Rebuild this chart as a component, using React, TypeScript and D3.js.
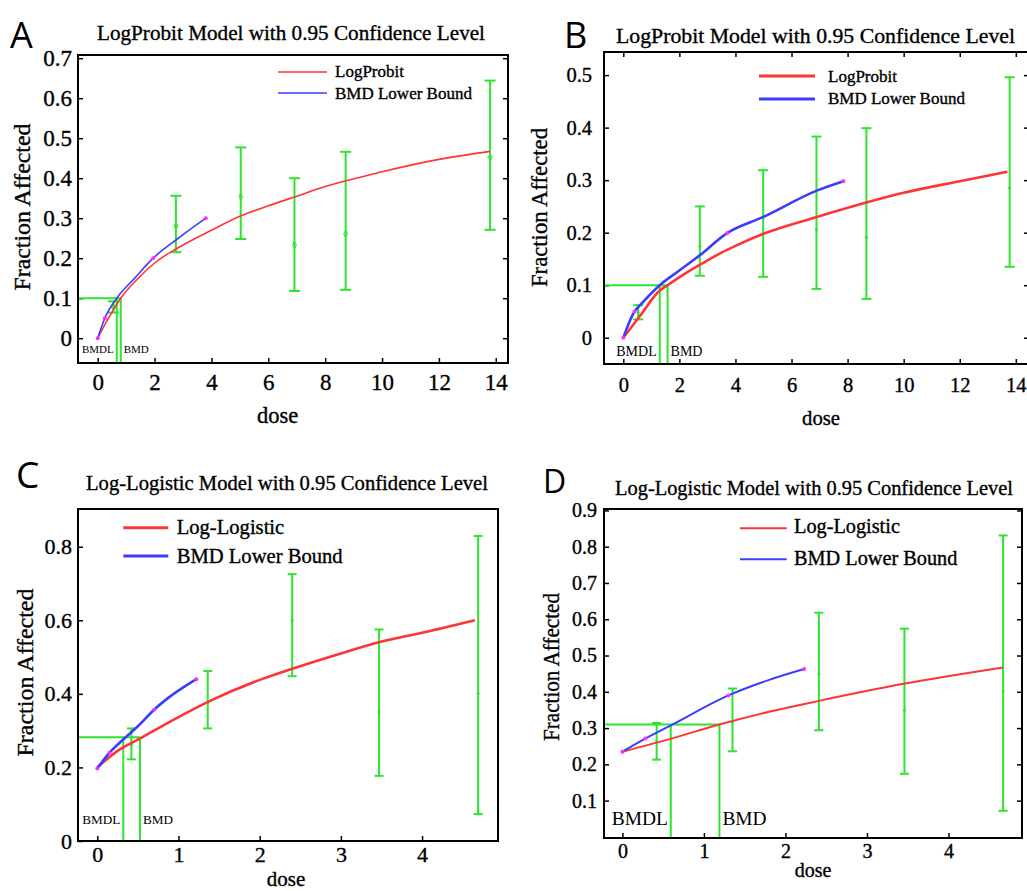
import React, { useEffect, useRef } from "react";
import * as d3 from "d3";

type Pt = [number, number];
// dose, lower, mean, upper
type Bar = [number, number, number, number];

// ---- Panel A : LogProbit ----
const aModel: Pt[] = [[0, 0], [0.3, 0.04], [0.81, 0.1], [1.5, 0.155], [2, 0.188], [2.8, 0.225], [4, 0.27], [5, 0.305], [6, 0.331], [7, 0.355], [8, 0.379], [10, 0.416], [12, 0.447], [13.8, 0.467]];
const aLower: Pt[] = [[0, 0], [0.25, 0.05], [0.67, 0.1], [1.3, 0.15], [1.95, 0.2], [2.8, 0.248], [3.8, 0.3]];
const aMarks: Pt[] = [[0, 0], [0.25, 0.05], [1.95, 0.2], [3.8, 0.3]];
const aBars: Bar[] = [[0.55, 0.064, 0.078, 0.092], [2.75, 0.215, 0.281, 0.356], [5.03, 0.248, 0.354, 0.477], [6.92, 0.118, 0.233, 0.4], [8.72, 0.121, 0.261, 0.466], [13.8, 0.271, 0.452, 0.644]];
const aXTicks = [0, 2, 4, 6, 8, 10, 12, 14];
const aYTicks = [0, 0.1, 0.2, 0.3, 0.4, 0.5, 0.6, 0.7];

// ---- Panel B : LogProbit ----
const bModel: Pt[] = [[0, 0], [0.6, 0.042], [1.3, 0.09], [1.58, 0.1], [2.2, 0.122], [2.8, 0.141], [3.5, 0.162], [4, 0.175], [5, 0.198], [6.9, 0.23], [8.7, 0.258], [10, 0.276], [12, 0.298], [13.7, 0.316]];
const bLower: Pt[] = [[0, 0], [0.4, 0.05], [0.6, 0.062], [1.3, 0.1], [2, 0.128], [2.73, 0.157], [3.7, 0.199], [5, 0.23], [6.9, 0.28], [7.85, 0.298]];
const bMarks: Pt[] = [[0, 0], [0.4, 0.05], [3.7, 0.199], [7.85, 0.298]];
const bBars: Bar[] = [[0.53, 0.035, 0.048, 0.062], [2.73, 0.118, 0.174, 0.25], [4.99, 0.116, 0.199, 0.319], [6.89, 0.093, 0.206, 0.383], [8.67, 0.074, 0.191, 0.399], [13.78, 0.135, 0.285, 0.496]];
const bXTicks = [0, 2, 4, 6, 8, 10, 12, 14];
const bYTicks = [0, 0.1, 0.2, 0.3, 0.4, 0.5];

// ---- Panel C : Log-Logistic ----
const cModel: Pt[] = [[0, 0.2], [0.25, 0.245], [0.52, 0.278], [1, 0.337], [1.37, 0.379], [2, 0.438], [2.41, 0.469], [3, 0.51], [3.48, 0.541], [4, 0.566], [4.65, 0.6]];
const cLower: Pt[] = [[0, 0.197], [0.15, 0.24], [0.33, 0.278], [0.5, 0.312], [0.7, 0.357], [0.85, 0.385], [1.22, 0.44]];
const cMarks: Pt[] = [[0, 0.197], [0.15, 0.24], [0.7, 0.357], [1.22, 0.44]];
const cBars: Bar[] = [[0.42, 0.222, 0.261, 0.306], [1.36, 0.306, 0.376, 0.462], [2.4, 0.448, 0.6, 0.7255], [3.47, 0.177, 0.351, 0.575], [4.69, 0.073, 0.401, 0.829]];
const cXTicks = [0, 1, 2, 3, 4];
const cYTicks = [0, 0.2, 0.4, 0.6, 0.8];

// ---- Panel D : Log-Logistic ----
const dModel: Pt[] = [[0, 0.235], [0.6, 0.271], [1.19, 0.31], [1.8, 0.345], [2.41, 0.375], [3.45, 0.422], [4.67, 0.467]];
const dLower: Pt[] = [[0, 0.235], [0.28, 0.271], [0.6, 0.308], [1.3, 0.39], [1.8, 0.433], [2.23, 0.463]];
const dMarks: Pt[] = [[0, 0.235], [0.28, 0.271], [1.3, 0.39], [2.23, 0.463]];
const dBars: Bar[] = [[0.42, 0.213, 0.262, 0.314], [1.35, 0.236, 0.317, 0.409], [2.41, 0.294, 0.45, 0.618], [3.46, 0.174, 0.349, 0.574], [4.67, 0.072, 0.402, 0.831]];
const dXTicks = [0, 1, 2, 3, 4];
const dYTicks = [0.1, 0.2, 0.3, 0.4, 0.5, 0.6, 0.7, 0.8, 0.9];

// benchmark response / BMDL / BMD per panel
const bmrs = [0.1, 0.1, 0.282, 0.31];
const bmdls = [0.67, 1.3, 0.32, 0.593];
const bmds = [0.81, 1.58, 0.525, 1.19];

const probitNames = ["LogProbit", "BMD Lower Bound"];
const logisticNames = ["Log-Logistic", "BMD Lower Bound"];
const probitTitle = "LogProbit Model with 0.95 Confidence Level";
const logisticTitle = "Log-Logistic Model with 0.95 Confidence Level";

const SERIF = "'Liberation Serif', 'Times New Roman', serif";
const SANS = "'Open Sans', 'DejaVu Sans', sans-serif";
const GREEN = "#2fe42f";
const RED = "#ff3434";
const BLUE = "#3c3cff";
const MAGENTA = "#ff2cff";
// scanned figure: text looks a little heavier than plain regular
const INK = 0.35;

const panels = [
  {
    letter: "A", letterX: 10, letterY: 48, letterSize: 36,
    title: probitTitle, titleX: 291, titleY: 40, titleLen: 388,
    left: 78, top: 55, right: 508, bottom: 363,
    xDomain: [-0.693, 14.43], yDomain: [-0.062, 0.708],
    xTicks: aXTicks, yTicks: aYTicks, tickFont: 23, xPad: 10.7, yPad: 6,
    rightTicks: true, topTicks: false,
    yLabelX: 30, yLabelY: 207, yLabelLen: 167, xLabelX: 277.5, xLabelY: 423, xLabelFont: 22.5,
    legX1: 278, legX2: 327, legY: [72, 93], legTextX: 335, legBase: [77, 99], legFont: 17, legW: 1.6,
    names: probitNames, model: aModel, lower: aLower, marks: aMarks, bars: aBars,
    curveW: 1.6, capW: 11, bmdFont: 11, bmdBase: 352.7, hollow: true,
  },
  {
    letter: "B", letterX: 564, letterY: 48, letterSize: 36,
    title: probitTitle, titleX: 815.5, titleY: 43, titleLen: 399,
    left: 604, top: 52, right: 1029, bottom: 364,
    xDomain: [-0.688, 14.47], yDomain: [-0.05, 0.544],
    xTicks: bXTicks, yTicks: bYTicks, tickFont: 20.5, xPad: 13.4, yPad: 12,
    rightTicks: true, topTicks: true,
    yLabelX: 546.7, yLabelY: 207.5, yLabelLen: 159, xLabelX: 821, xLabelY: 425, xLabelFont: 20.7,
    legX1: 759, legX2: 815, legY: [76, 99], legTextX: 828, legBase: [81.7, 104.3], legFont: 17, legW: 3,
    names: probitNames, model: bModel, lower: bLower, marks: bMarks, bars: bBars,
    curveW: 2.6, capW: 10, bmdFont: 14, bmdBase: 356, hollow: false,
  },
  {
    letter: "C", letterX: 16, letterY: 488, letterSize: 37,
    title: logisticTitle, titleX: 287, titleY: 490, titleLen: 402,
    left: 78, top: 509, right: 498, bottom: 841,
    xDomain: [-0.2375, 4.935], yDomain: [0, 0.9025],
    xTicks: cXTicks, yTicks: cYTicks, tickFont: 22, xPad: 5.4, yPad: 6,
    rightTicks: false, topTicks: false,
    yLabelX: 33, yLabelY: 672.5, yLabelLen: 168, xLabelX: 286, xLabelY: 886, xLabelFont: 21,
    legX1: 123.3, legX2: 168.3, legY: [527.7, 556], legTextX: 176.7, legBase: [533.5, 563.3], legFont: 20.6, legW: 3,
    names: logisticNames, model: cModel, lower: cLower, marks: cMarks, bars: cBars,
    curveW: 2.6, capW: 9, bmdFont: 13.2, bmdBase: 824, hollow: false,
  },
  {
    letter: "D", letterX: 543, letterY: 493, letterSize: 32,
    title: logisticTitle, titleX: 814, titleY: 495, titleLen: 398,
    left: 604, top: 509, right: 1022, bottom: 838,
    xDomain: [-0.226, 4.902], yDomain: [-0.003, 0.9039],
    xTicks: dXTicks, yTicks: dYTicks, tickFont: 20, xPad: 5.8, yPad: 7,
    rightTicks: true, topTicks: false,
    yLabelX: 559, yLabelY: 667, yLabelLen: 148, xLabelX: 813, xLabelY: 876.7, xLabelFont: 20,
    legX1: 740, legX2: 786.7, legY: [528.3, 559.3], legTextX: 794, legBase: [532.5, 565], legFont: 20.3, legW: 2,
    names: logisticNames, model: dModel, lower: dLower, marks: dMarks, bars: dBars,
    curveW: 2, capW: 9, bmdFont: 19.4, bmdBase: 825, hollow: false,
  },
];

function ink(t: any) {
  return t.attr("fill", "#000").attr("stroke", "#000").attr("stroke-width", INK);
}

function drawPanel(svg: any, p: any, i: number) {
  const x = d3.scaleLinear().domain(p.xDomain).range([p.left, p.right]);
  const y = d3.scaleLinear().domain(p.yDomain).range([p.bottom, p.top]);
  const g = svg.append("g");

  // panel letter and title
  g.append("text").attr("x", p.letterX).attr("y", p.letterY)
    .attr("font-family", SANS).attr("font-size", p.letterSize).text(p.letter);
  g.append("text").attr("x", p.titleX).attr("y", p.titleY)
    .attr("text-anchor", "middle").attr("font-family", SERIF).attr("font-size", 21)
    .attr("textLength", p.titleLen).attr("lengthAdjust", "spacingAndGlyphs").text(p.title)
    .call(ink);

  const styleAxis = (a: any) =>
    a.attr("font-family", SERIF).attr("font-size", p.tickFont)
      .call((s: any) => s.select(".domain").remove())
      .call((s: any) => s.selectAll("line").attr("stroke-width", 1.5))
      .call((s: any) => s.selectAll("text").call(ink));

  const yFmt = (v: any) => (v === 0 ? "0" : d3.format(".1f")(v));
  g.append("g").attr("transform", `translate(${p.left},0)`)
    .call(d3.axisLeft(y).tickValues(p.yTicks).tickSize(-5).tickPadding(p.yPad).tickFormat(yFmt))
    .call(styleAxis);
  g.append("g").attr("transform", `translate(0,${p.bottom})`)
    .call(d3.axisBottom(x).tickValues(p.xTicks).tickSize(-5).tickPadding(p.xPad).tickFormat(d3.format("d")))
    .call(styleAxis);
  if (p.rightTicks) {
    g.append("g").attr("transform", `translate(${p.right},0)`)
      .call(d3.axisRight(y).tickValues(p.yTicks).tickSize(-5).tickFormat(() => ""))
      .call(styleAxis);
  }
  if (p.topTicks) {
    g.append("g").attr("transform", `translate(0,${p.top})`)
      .call(d3.axisTop(x).tickValues(p.xTicks).tickSize(-5).tickFormat(() => ""))
      .call(styleAxis);
  }

  // axis labels
  g.append("text")
    .attr("transform", `translate(${p.yLabelX},${p.yLabelY}) rotate(-90)`)
    .attr("text-anchor", "middle").attr("font-family", SERIF).attr("font-size", 23)
    .attr("textLength", p.yLabelLen).attr("lengthAdjust", "spacingAndGlyphs")
    .text("Fraction Affected").call(ink);
  g.append("text").attr("x", p.xLabelX).attr("y", p.xLabelY)
    .attr("text-anchor", "middle").attr("font-family", SERIF).attr("font-size", p.xLabelFont)
    .text("dose").call(ink);

  const bmr = bmrs[i];
  const bmdl = bmdls[i];
  const bmd = bmds[i];

  // benchmark guide lines
  const guide = g.append("g").attr("stroke", GREEN).attr("stroke-width", 2).attr("fill", "none");
  guide.append("line").attr("x1", p.left).attr("x2", x(bmd)).attr("y1", y(bmr)).attr("y2", y(bmr));
  guide.append("line").attr("x1", x(bmdl)).attr("x2", x(bmdl)).attr("y1", y(bmr)).attr("y2", p.bottom);
  guide.append("line").attr("x1", x(bmd)).attr("x2", x(bmd)).attr("y1", y(bmr)).attr("y2", p.bottom);

  g.append("text").attr("x", x(bmdl) - 3).attr("y", p.bmdBase).attr("text-anchor", "end")
    .attr("font-family", SERIF).attr("font-size", p.bmdFont).text("BMDL");
  g.append("text").attr("x", x(bmd) + 3).attr("y", p.bmdBase)
    .attr("font-family", SERIF).attr("font-size", p.bmdFont).text("BMD");

  // error bars
  const bars = g.append("g").attr("stroke", GREEN).attr("stroke-width", 2).attr("fill", "none");
  p.bars.forEach((b: Bar) => {
    const cx = x(b[0]);
    bars.append("line").attr("x1", cx).attr("x2", cx).attr("y1", y(b[1])).attr("y2", y(b[3]));
    bars.append("line").attr("x1", cx - p.capW / 2).attr("x2", cx + p.capW / 2).attr("y1", y(b[1])).attr("y2", y(b[1]));
    bars.append("line").attr("x1", cx - p.capW / 2).attr("x2", cx + p.capW / 2).attr("y1", y(b[3])).attr("y2", y(b[3]));
    if (p.hollow) {
      bars.append("path").attr("transform", `translate(${cx},${y(b[2])})`)
        .attr("d", d3.symbol(d3.symbolDiamond, 14)()).attr("stroke-width", 1);
    } else {
      bars.append("circle").attr("cx", cx).attr("cy", y(b[2])).attr("r", 1.6).attr("fill", GREEN).attr("stroke", "none");
    }
  });

  const line = d3.line<Pt>().x((d) => x(d[0])).y((d) => y(d[1])).curve(d3.curveMonotoneX);
  g.append("path").attr("d", line(p.model)).attr("fill", "none").attr("stroke", RED).attr("stroke-width", p.curveW);
  g.append("path").attr("d", line(p.lower)).attr("fill", "none").attr("stroke", BLUE).attr("stroke-width", p.curveW);
  g.selectAll(null).data(p.marks).enter().append("circle")
    .attr("cx", (d: Pt) => x(d[0])).attr("cy", (d: Pt) => y(d[1])).attr("r", 2).attr("fill", MAGENTA);

  // legend
  const colors = [RED, BLUE];
  p.names.forEach((name: string, k: number) => {
    g.append("line").attr("x1", p.legX1).attr("x2", p.legX2).attr("y1", p.legY[k]).attr("y2", p.legY[k])
      .attr("stroke", colors[k]).attr("stroke-width", p.legW);
    g.append("text").attr("x", p.legTextX).attr("y", p.legBase[k])
      .attr("font-family", SERIF).attr("font-size", p.legFont).text(name).call(ink);
  });

  // frame
  g.append("rect").attr("x", p.left).attr("y", p.top)
    .attr("width", p.right - p.left).attr("height", p.bottom - p.top)
    .attr("fill", "none").attr("stroke", "#000").attr("stroke-width", 2);
}

export default function App() {
  const svgRef = useRef<SVGSVGElement>(null);

  useEffect(() => {
    const svg = d3.select(svgRef.current);
    svg.selectAll("*").remove();
    svg.append("rect").attr("width", 1027).attr("height", 891).attr("fill", "#fff");
    panels.forEach((p, i) => drawPanel(svg, p, i));
  }, []);

  return (
    <svg
      ref={svgRef}
      width={1027}
      height={891}
      style={{ position: "absolute", left: 0, top: 0, display: "block" }}
    />
  );
}
